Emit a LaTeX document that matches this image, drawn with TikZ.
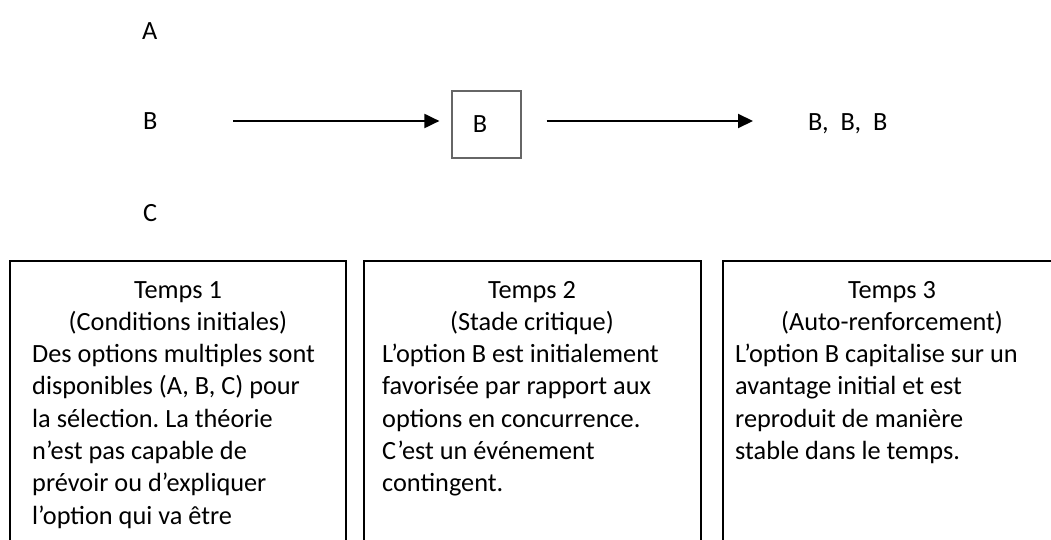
\documentclass[tikz,border=0pt]{standalone}
\usepackage{fontspec}
\setmainfont{Carlito}
\frenchspacing
\usetikzlibrary{arrows.meta}
\tikzset{
  lbl/.style={inner sep=0pt, font=\fontsize{26.3}{32}\selectfont, anchor=base west},
  hdr/.style={inner sep=0pt, font=\fontsize{26.3}{32}\selectfont, anchor=base},
  panel/.style={draw=black, line width=2pt},
  smallbox/.style={draw=black!60, line width=1.2pt, minimum width=69pt, minimum height=67pt, inner sep=0pt, font=\fontsize{26.3}{32}\selectfont},
  conn/.style={line width=2pt, -{Triangle[length=15pt,width=14pt]}},
}
\begin{document}
\begin{tikzpicture}[x=1pt,y=-1pt]
\useasboundingbox (0,0) rectangle (1051,540);
\clip (0,0) rectangle (1051,540);
% top row
\node[lbl] (A) at (142,40) {A};
\node[lbl] (B) at (143,130) {B};
\node[lbl] (C) at (143,221) {C};
\node[smallbox] (boxB) at (486.5,124.5) {\hspace*{-13pt}B};
\node[lbl] (BBB) at (808,131) {B,\ \ B,\ \ B};
\coordinate (s1) at (233,121);
\coordinate (e2) at (753,121);
\draw[conn, shorten >=12pt] (s1) -- (s1 -| boxB.west);
\draw[conn, shorten <=25pt] (boxB.east |- e2) -- (e2);
% panels
\draw[panel] (10,560) -- (10,261) -- (346,261) -- (346,560);
\draw[panel] (364,560) -- (364,261) -- (701,261) -- (701,560);
\draw[panel] (723,560) -- (723,261) -- (1061,261) -- (1061,560);
% panel 1
\node[hdr] (h1a) at (178,298) {Temps 1};
\node[hdr] (h1b) at (178,330.3) {(Conditions initiales)};
\foreach \t [count=\i] in {{Des options multiples sont},{disponibles (A, B, C) pour},{la sélection. La théorie},{n’est pas capable de},{prévoir ou d’expliquer},{l’option qui va être}}
  \node[lbl] (p1-\i) at (32,{362.6+32.3*(\i-1)}) {\t};
% panel 2
\node[hdr] (h2a) at (532,298) {Temps 2};
\node[hdr] (h2b) at (532,330.3) {(Stade critique)};
\foreach \t [count=\i] in {{L’option B est initialement},{favorisée par rapport aux},{options en concurrence.},{C’est un événement},{contingent.}}
  \node[lbl] (p2-\i) at (382,{362.6+32.3*(\i-1)}) {\t};
% panel 3
\node[hdr] (h3a) at (892,298) {Temps 3};
\node[hdr] (h3b) at (892,330.3) {(Auto-renforcement)};
\foreach \t [count=\i] in {{L’option B capitalise sur un},{avantage initial et est},{reproduit de manière},{stable dans le temps.}}
  \node[lbl] (p3-\i) at (735,{362.6+32.3*(\i-1)}) {\t};
\end{tikzpicture}
\end{document}
